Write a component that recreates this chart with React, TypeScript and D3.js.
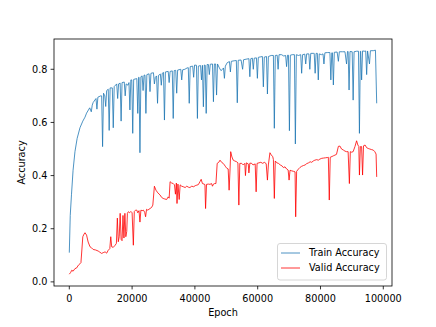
import React from "react";
import * as d3 from "d3";

const W = 436;
const H = 327;

const xTicks = [0, 20000, 40000, 60000, 80000, 100000];
const yTicks = [0.0, 0.2, 0.4, 0.6, 0.8];
const seriesNames = ["Train Accuracy", "Valid Accuracy"];

const trainPoints: [number, number][] = [
  [0,0.11],[300,0.25],[700,0.33],[1200,0.42],[1800,0.49],[2500,0.54],[3400,0.58],[4300,0.605],[5000,0.62],[5500,0.635],
  [6500,0.655],[7000,0.64],[7300,0.665],[7600,0.675],[8500,0.69],[8800,0.65],[9100,0.695],[10000,0.70],[10300,0.70],[10600,0.509],
  [10900,0.71],[11300,0.70],[11600,0.66],[11900,0.72],[12400,0.725],[12700,0.57],[13000,0.73],[13700,0.73],[14000,0.58],[14300,0.735],
  [15100,0.745],[15400,0.69],[15700,0.745],[16200,0.748],[16500,0.605],[16800,0.75],[17500,0.752],[17800,0.70],[18100,0.745],[18700,0.74],
  [19000,0.75],[19300,0.647],[19600,0.76],[19900,0.76],[20200,0.559],[20500,0.762],[21500,0.765],[21800,0.634],[22100,0.77],[22200,0.77],
  [22500,0.486],[22800,0.772],[23200,0.775],[23500,0.72],[23800,0.778],[24100,0.778],[24400,0.634],[24700,0.78],[25400,0.783],[25700,0.716],
  [26000,0.785],[26800,0.787],[27100,0.745],[27400,0.77],[27800,0.775],[28100,0.672],[28400,0.777],[29000,0.782],[29300,0.74],[29600,0.785],
  [30000,0.788],[30300,0.609],[30600,0.79],[31500,0.792],[31800,0.75],[32100,0.792],[32800,0.794],[33100,0.615],[33400,0.795],[33900,0.796],
  [34200,0.71],[34500,0.797],[35500,0.80],[35800,0.76],[36100,0.798],[36800,0.80],[37500,0.805],[37900,0.806],[38200,0.672],[38500,0.81],
  [39300,0.812],[39600,0.77],[39900,0.816],[40500,0.815],[40800,0.615],[41100,0.812],[41800,0.814],[42100,0.76],[42400,0.815],[42700,0.659],
  [43000,0.816],[43300,0.815],[43600,0.634],[43900,0.818],[44300,0.818],[44600,0.78],[44900,0.819],[45600,0.82],[45900,0.678],[46200,0.82],
  [46600,0.82],[46900,0.703],[47200,0.82],[47800,0.805],[48300,0.795],[48800,0.80],[49100,0.805],[49400,0.766],[49700,0.812],[50300,0.825],
  [51000,0.829],[51300,0.79],[51600,0.83],[52500,0.832],[53200,0.833],[53500,0.674],[53800,0.834],[54700,0.835],[55200,0.80],[55500,0.836],
  [56300,0.838],[57200,0.84],[57500,0.772],[57800,0.84],[58300,0.842],[58600,0.80],[58900,0.842],[59600,0.843],[59900,0.766],[60200,0.845],
  [61000,0.847],[61500,0.848],[61800,0.734],[62100,0.846],[62800,0.848],[63100,0.707],[63400,0.848],[64300,0.852],[65000,0.852],[65300,0.578],
  [65600,0.852],[66200,0.853],[66500,0.80],[66800,0.855],[67600,0.855],[68300,0.85],[68900,0.852],[69200,0.81],[69500,0.853],[69800,0.853],
  [70100,0.569],[70400,0.853],[71000,0.855],[71700,0.855],[72000,0.519],[72300,0.855],[73000,0.852],[73700,0.855],[74000,0.785],[74300,0.855],
  [75000,0.857],[75300,0.82],[75600,0.858],[76300,0.858],[76600,0.80],[76900,0.86],[77700,0.86],[78000,0.86],[78300,0.785],[78600,0.86],
  [79000,0.86],[79300,0.76],[79600,0.858],[80300,0.855],[80800,0.858],[81100,0.82],[81400,0.862],[82200,0.863],[83000,0.863],[83300,0.76],
  [83600,0.862],[83800,0.862],[84100,0.741],[84400,0.864],[85300,0.865],[85700,0.83],[86000,0.866],[87000,0.866],[87800,0.866],[88300,0.82],
  [88600,0.867],[88800,0.867],[89100,0.722],[89400,0.867],[90100,0.866],[90400,0.684],[90700,0.866],[91500,0.868],[92100,0.868],[92400,0.559],
  [92700,0.868],[92800,0.868],[93100,0.76],[93400,0.869],[94100,0.868],[94400,0.869],[94700,0.78],[95000,0.869],[95600,0.82],[95900,0.87],
  [96800,0.87],[97500,0.872],[97900,0.672],
];

const validPoints: [number, number][] = [
  [0,0.029],[400,0.035],[800,0.044],[1200,0.04],[1800,0.05],[2300,0.052],[2900,0.063],[3400,0.068],[3700,0.072],[4000,0.12],
  [4300,0.17],[4700,0.18],[5000,0.185],[5500,0.176],[6000,0.15],[6600,0.132],[7100,0.128],[7600,0.122],[8400,0.12],[9200,0.116],
  [9700,0.112],[10300,0.107],[10800,0.11],[11400,0.113],[11900,0.108],[12400,0.119],[12900,0.125],[13200,0.17],[13500,0.132],[14000,0.13],
  [14600,0.138],[15000,0.145],[15300,0.24],[15600,0.151],[15900,0.17],[16200,0.258],[16500,0.16],[16800,0.155],[17100,0.25],[17400,0.165],
  [17700,0.258],[18000,0.17],[18300,0.19],[18500,0.258],[18800,0.264],[19200,0.26],[19600,0.265],[20000,0.26],[20400,0.138],[20700,0.265],
  [21100,0.27],[21500,0.27],[21800,0.26],[22200,0.268],[22500,0.225],[22800,0.27],[23200,0.268],[23600,0.27],[24000,0.262],[24300,0.245],
  [24600,0.273],[25000,0.27],[25700,0.276],[26200,0.28],[26600,0.289],[27100,0.36],[27600,0.345],[28200,0.335],[28900,0.327],[29400,0.318],
  [29900,0.314],[30400,0.312],[31000,0.31],[31500,0.32],[31800,0.315],[32100,0.377],[32600,0.372],[33100,0.37],[33500,0.365],[33800,0.33],
  [34100,0.372],[34300,0.295],[34600,0.368],[35000,0.31],[35300,0.365],[35800,0.36],[36300,0.358],[36900,0.355],[37400,0.36],[38000,0.356],
  [38400,0.355],[39000,0.36],[39600,0.358],[40100,0.362],[40600,0.364],[41100,0.366],[41600,0.377],[42000,0.386],[42400,0.37],[42900,0.368],
  [43200,0.366],[43400,0.276],[43700,0.367],[44300,0.368],[44800,0.367],[45300,0.37],[45600,0.36],[45900,0.368],[46300,0.37],[46700,0.37],
  [47100,0.446],[47600,0.45],[48000,0.458],[48500,0.45],[49000,0.446],[49400,0.44],[49800,0.433],[50200,0.427],[50600,0.425],[50900,0.345],
  [51200,0.425],[51400,0.49],[51800,0.47],[52200,0.458],[52700,0.455],[53300,0.452],[53700,0.448],[54000,0.289],[54300,0.446],[54900,0.446],
  [55400,0.44],[55900,0.446],[56100,0.40],[56400,0.448],[57000,0.444],[57200,0.41],[57500,0.447],[58100,0.446],[58500,0.44],[59200,0.444],
  [59500,0.339],[59800,0.446],[60400,0.448],[61000,0.45],[61600,0.446],[62100,0.45],[62700,0.445],[63100,0.383],[63400,0.44],[63900,0.486],
  [64300,0.478],[64800,0.471],[65000,0.46],[65300,0.314],[65600,0.455],[66100,0.448],[66600,0.446],[67200,0.44],[67800,0.436],[68200,0.43],
  [68700,0.433],[69200,0.425],[69700,0.421],[70000,0.383],[70300,0.42],[70800,0.418],[71400,0.416],[71900,0.414],[72100,0.245],[72400,0.416],
  [73000,0.425],[73500,0.431],[74000,0.435],[74600,0.438],[75100,0.44],[75600,0.445],[76200,0.448],[76700,0.452],[77200,0.45],[77700,0.455],
  [78200,0.458],[78800,0.46],[79300,0.458],[79800,0.462],[80400,0.465],[81000,0.466],[81600,0.467],[82200,0.468],[82500,0.469],[82800,0.308],
  [83100,0.469],[83700,0.472],[84200,0.475],[84600,0.477],[85100,0.48],[85700,0.51],[86200,0.511],[86700,0.5],[87300,0.496],[87800,0.492],
  [88300,0.49],[88800,0.49],[89200,0.37],[89500,0.49],[89900,0.488],[90400,0.49],[91000,0.51],[91500,0.531],[91900,0.515],[92200,0.51],
  [92400,0.402],[92700,0.509],[93100,0.509],[93400,0.402],[93700,0.512],[94200,0.515],[94700,0.505],[95200,0.502],[95700,0.5],[96200,0.498],
  [96800,0.496],[97300,0.49],[97700,0.481],[97900,0.395],
];

const colors = ["#1f77b4", "#ff0000"];
const FONT = "DejaVu Sans, sans-serif";

export default function App() {
  const left = 54, right = 392, top = 39, bottom = 286;
  const x = d3.scaleLinear().domain([-4875, 102775]).range([left, right]);
  const y = d3.scaleLinear().domain([-0.0155, 0.914]).range([bottom, top]);
  const line = d3
    .line<[number, number]>()
    .x((d) => x(d[0]))
    .y((d) => y(d[1]));

  const fs = 9.7;
  return (
    <div style={{ position: "fixed", left: 0, top: 0 }}>
      <svg width={W} height={H} style={{ display: "block", background: "white" }} fontFamily={FONT}>
        <rect x={0} y={0} width={W} height={H} fill="white" />
        <path d={line(trainPoints) || ""} fill="none" stroke={colors[0]} strokeWidth={0.8} strokeLinejoin="round" />
        <path d={line(validPoints) || ""} fill="none" stroke={colors[1]} strokeWidth={0.8} strokeLinejoin="round" />
        <rect x={left} y={top} width={right - left} height={bottom - top} fill="none" stroke="black" strokeWidth={0.8} />
        {xTicks.map((t) => (
          <g key={"x" + t}>
            <line x1={x(t)} x2={x(t)} y1={bottom} y2={bottom + 3.4} stroke="black" strokeWidth={0.8} />
            <text x={x(t)} y={bottom + 15.5} fontSize={fs} textAnchor="middle" fill="black">
              {t}
            </text>
          </g>
        ))}
        {yTicks.map((t) => (
          <g key={"y" + t}>
            <line x1={left - 3.4} x2={left} y1={y(t)} y2={y(t)} stroke="black" strokeWidth={0.8} />
            <text x={left - 6.6} y={y(t)} dy="0.36em" fontSize={fs} textAnchor="end" fill="black">
              {t.toFixed(1)}
            </text>
          </g>
        ))}
        <text x={(left + right) / 2} y={315.5} fontSize={fs} textAnchor="middle" fill="black">
          Epoch
        </text>
        <text
          transform={`translate(25,${(top + bottom) / 2}) rotate(-90)`}
          fontSize={fs}
          textAnchor="middle"
          fill="black"
        >
          Accuracy
        </text>
        <g>
          <rect x={277.5} y={243.5} width={109} height={36.5} rx={2.5} fill="white" fillOpacity={0.8} stroke="#cccccc" strokeWidth={0.8} />
          {seriesNames.map((name, i) => (
            <g key={name}>
              <line x1={281} x2={300} y1={253 + i * 15} y2={253 + i * 15} stroke={colors[i]} strokeWidth={0.8} />
              <text x={309} y={256.3 + i * 15} fontSize={fs} fill="black">
                {name}
              </text>
            </g>
          ))}
        </g>
      </svg>
    </div>
  );
}
